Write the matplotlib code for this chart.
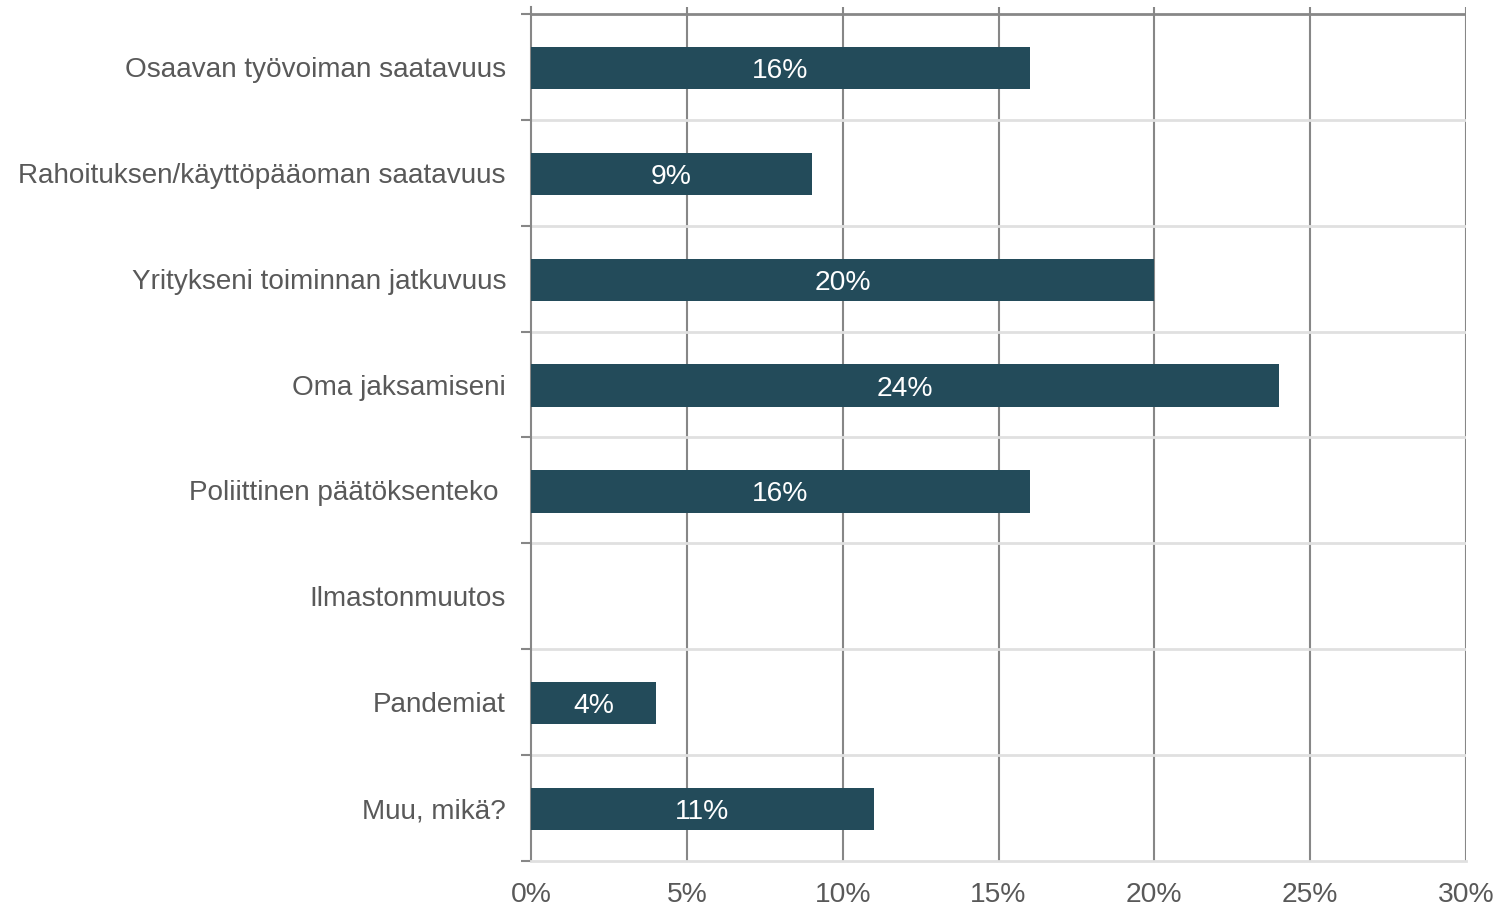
import numpy as np
import matplotlib
matplotlib.use("Agg")
import matplotlib.pyplot as plt

categories = ['Osaavan työvoiman saatavuus',
              'Rahoituksen/käyttöpääoman saatavuus',
              'Yritykseni toiminnan jatkuvuus',
              'Oma jaksamiseni',
              'Poliittinen päätöksenteko ',
              'Ilmastonmuutos',
              'Pandemiat',
              'Muu, mikä?']
values = [16, 9, 20, 24, 16, 0, 4, 11]
xticks = [0, 5, 10, 15, 20, 25, 30]

plt.rcParams['font.family'] = ['Liberation Sans', 'DejaVu Sans']
bar_color = '#234b5a'
text_color = '#595959'
dark = '#878787'
light = '#e0e0e0'

W, H = 1499, 909
fig = plt.figure(figsize=(W / 100, H / 100), dpi=100)
left, right, top, bottom = 531, 1466, 7, 861
ax = fig.add_axes([left / W, 1 - bottom / H, (right - left) / W, (bottom - top) / H])

n = len(categories)
y = np.arange(n)
step = 106.0
extra = (14 - top) / step
ax.set_xlim(0, 30)
ax.set_ylim(n - 0.5, -0.5 - extra)

for xv in xticks[1:]:
    ax.axvline(xv, color=dark, lw=1.5, zorder=1)
for b in np.arange(0.5, n - 0.5, 1):
    ax.axhline(b, color=light, lw=2, zorder=1)
ax.axhline(-0.5, color=dark, lw=2, zorder=1)

ax.barh(y + 0.01, values, height=0.4, color=bar_color, zorder=3)
for yi, v in zip(y, values):
    if v > 0:
        ax.text(v / 2, yi + 0.01, f'{v}%', ha='center', va='center_baseline',
                color='white', fontsize=20.3, zorder=4)

for s in ['top', 'right']:
    ax.spines[s].set_visible(False)
ax.spines['left'].set_color(dark)
ax.spines['left'].set_linewidth(1.5)
ax.spines['bottom'].set_color(light)
ax.spines['bottom'].set_linewidth(2)

ax.set_yticks(np.arange(-0.5, n, 1))
ax.set_yticklabels([])
ax.tick_params(axis='y', which='major', length=7, width=1.5, color=dark)
ax.set_yticks(y, minor=True)
ax.set_yticklabels(categories, minor=True, fontsize=20.1, color=text_color)
ax.tick_params(axis='y', which='minor', length=0, pad=18)

ax.set_xticks(xticks)
ax.set_xticklabels([f'{t}%' for t in xticks], fontsize=20.3, color=text_color)
ax.tick_params(axis='x', length=0, pad=15)

fig.savefig('out.png', dpi=100)
